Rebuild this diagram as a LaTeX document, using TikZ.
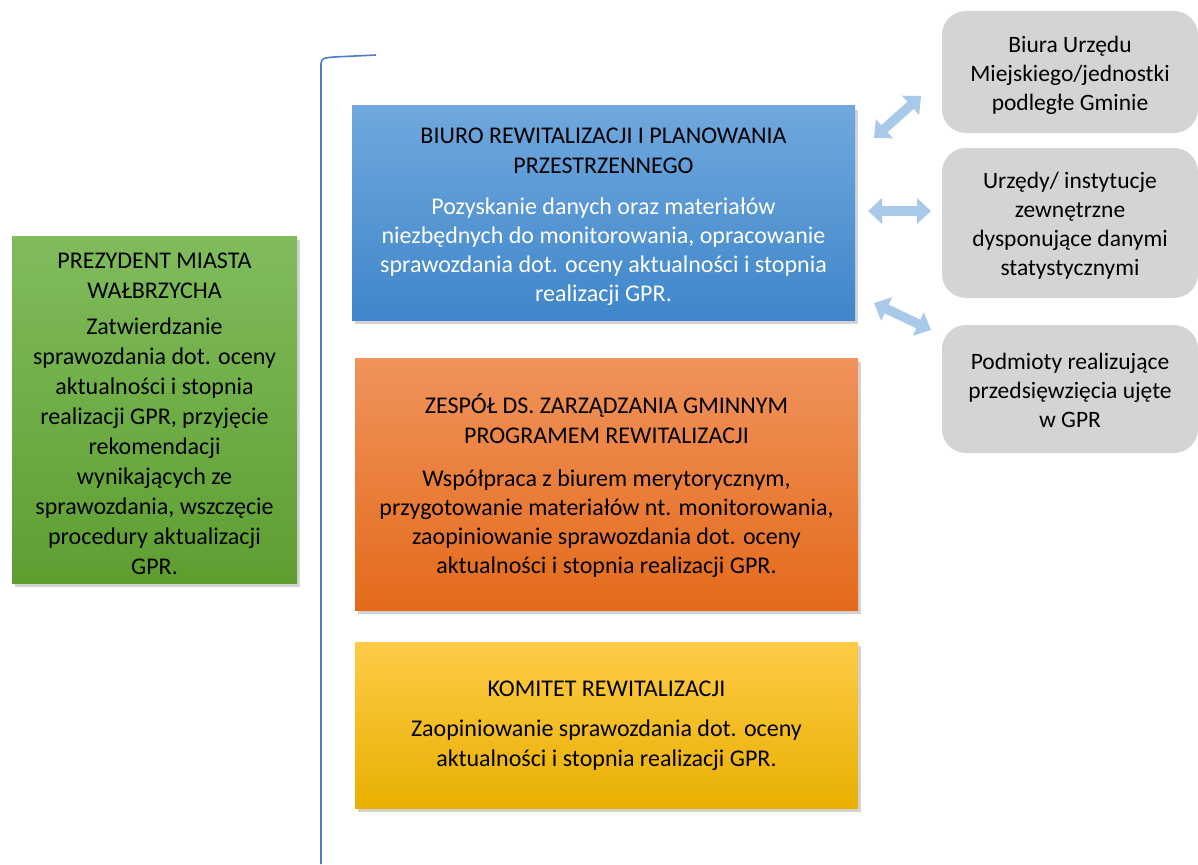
\documentclass[tikz,border=0pt]{standalone}
\usepackage{fontspec}
\setmainfont{Carlito}
\usetikzlibrary{shadows,arrows.meta}
\definecolor{greenT}{HTML}{80BC5C}
\definecolor{greenB}{HTML}{5E9E31}
\definecolor{blueT}{HTML}{70A8DE}
\definecolor{blueB}{HTML}{3F86CA}
\definecolor{orangeT}{HTML}{F0935C}
\definecolor{orangeB}{HTML}{E46A1A}
\definecolor{yellowT}{HTML}{FFCB48}
\definecolor{yellowB}{HTML}{E8B000}
\definecolor{grayF}{HTML}{D4D4D4}
\definecolor{arrowC}{HTML}{A9C9EA}
\definecolor{lineC}{HTML}{4D7CCB}
\tikzset{
  box/.style={rectangle, inner sep=0pt,
    drop shadow={opacity=0.35, shadow xshift=3pt, shadow yshift=-4pt}},
  txt/.style={inner sep=0pt, align=center, font=\fontsize{24}{30}\selectfont},
  graybox/.style={rectangle, rounded corners=24pt, fill=grayF, inner sep=0pt, minimum width=256pt},
  graytxt/.style={inner sep=0pt, align=center, font=\fontsize{23.5}{29}\selectfont},
  dblarrow/.style={draw=arrowC, line width=9.5pt,
    {Triangle[width=25pt,length=14pt]}-{Triangle[width=25pt,length=14pt]}},
  bracket/.style={draw=lineC, line width=1.6pt}
}
\begin{document}
\begin{tikzpicture}[x=1pt,y=-1pt]
\useasboundingbox (0,0) rectangle (1198,864);

\node[box, top color=greenT, bottom color=greenB, minimum width=285pt, minimum height=347pt]
  (prez) at (154.5,409.5) {};
\node[txt] (prezt) at (154.5,414) {PREZYDENT MIASTA\\WAŁBRZYCHA\\[6pt]
  Zatwierdzanie\\sprawozdania dot. oceny\\aktualności i stopnia\\realizacji GPR, przyjęcie\\rekomendacji\\wynikających ze\\sprawozdania, wszczęcie\\procedury aktualizacji\\GPR.};

\node[box, top color=blueT, bottom color=blueB, minimum width=503pt, minimum height=214pt]
  (biuro) at (603.5,213) {};
\node[txt] (biurot) at (603.5,217) {BIURO REWITALIZACJI I PLANOWANIA\\PRZESTRZENNEGO\\[11pt]
  \textcolor{white}{Pozyskanie danych oraz materiałów}\\[-1pt]
  \textcolor{white}{niezbędnych do monitorowania, opracowanie}\\[-1pt]
  \textcolor{white}{sprawozdania dot. oceny aktualności i stopnia}\\[-1pt]
  \textcolor{white}{realizacji GPR.}};

\node[box, top color=orangeT, bottom color=orangeB, minimum width=503pt, minimum height=252pt]
  (zesp) at (606.5,484) {};
\node[txt] (zespt) at (606.5,486) {ZESPÓŁ DS. ZARZĄDZANIA GMINNYM\\PROGRAMEM REWITALIZACJI\\[13pt]
  Współpraca z biurem merytorycznym,\\[-1pt]przygotowanie materiałów nt. monitorowania,\\[-1pt]zaopiniowanie sprawozdania dot. oceny\\[-1pt]aktualności i stopnia realizacji GPR.};

\node[box, top color=yellowT, bottom color=yellowB, minimum width=503pt, minimum height=166pt]
  (komitet) at (606.5,725) {};
\node[txt] (komitett) at (606.5,726) {KOMITET REWITALIZACJI\\[10pt]
  Zaopiniowanie sprawozdania dot. oceny\\aktualności i stopnia realizacji GPR.};

\node[graybox, minimum height=122pt] (g1) at (1070,72) {};
\node[graytxt] (g1t) at (1070,75) {Biura Urzędu\\Miejskiego/jednostki\\podległe Gminie};
\node[graybox, minimum height=150pt] (g2) at (1070,223) {};
\node[graytxt] (g2t) at (1070,226) {Urzędy/ instytucje\\zewnętrzne\\dysponujące danymi\\statystycznymi};
\node[graybox, minimum height=128pt] (g3) at (1070,389) {};
\node[graytxt] (g3t) at (1070,390) {Podmioty realizujące\\przedsięwzięcia ujęte\\w GPR};

\coordinate (a1s) at (874,138);
\coordinate (a1e) at (921,96);
\coordinate (a2s) at (868,211);
\coordinate (a2e) at (931,211);
\coordinate (a3s) at (874,303);
\coordinate (a3e) at (931,330);
\draw[dblarrow] (a1s) -- (a1e);
\draw[dblarrow] (a2s) -- (a2e);
\draw[dblarrow] (a3s) -- (a3e);

\coordinate (bb) at (321,864);
\coordinate (bt) at (376,55);
\draw[bracket] (bb) -- (321,64) .. controls (321,58) and (324,58) .. (334,57) -- (bt);
\end{tikzpicture}
\end{document}
